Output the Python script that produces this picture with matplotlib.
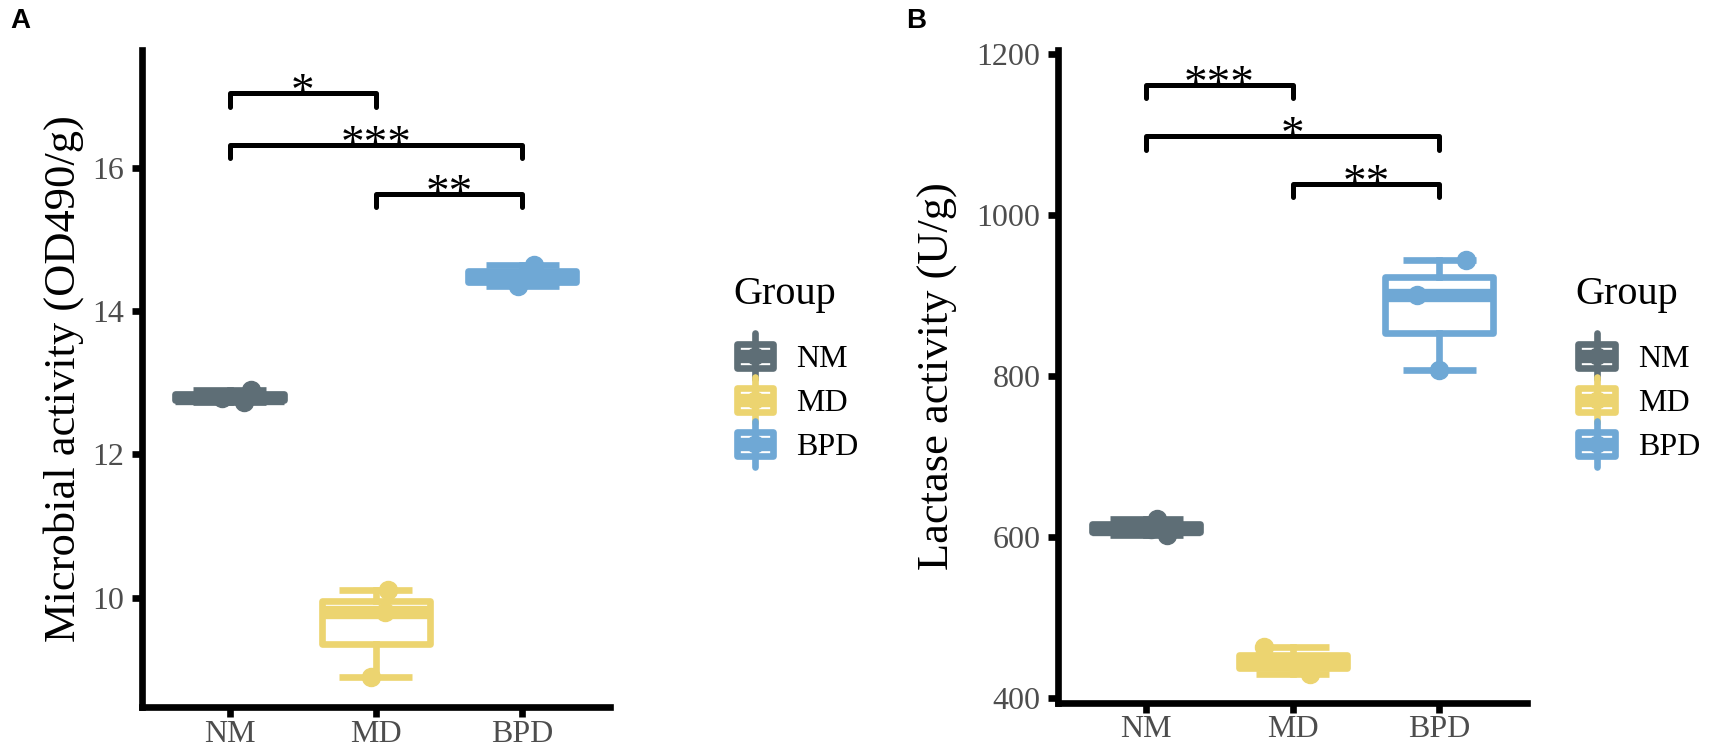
import matplotlib
matplotlib.use("Agg")
import matplotlib.pyplot as plt
from matplotlib.legend_handler import HandlerBase
from matplotlib.patches import Rectangle
from matplotlib.lines import Line2D

plt.rcParams['font.family'] = ['Liberation Serif', 'DejaVu Serif']

# groups and colours
groups = ["NM", "MD", "BPD"]
colors = ["#5E6E76", "#ECD470", "#6FA8D5"]

# panel A: microbial activity (OD490/g), three samples per group
nm_a = [12.73, 12.79, 12.90]
md_a = [8.89, 9.80, 10.10]
bpd_a = [14.35, 14.47, 14.65]
jit_a = [[0.10, -0.05, 0.145], [-0.034, 0.063, 0.086], [-0.03, 0.02, 0.08]]

# panel B: lactase activity (U/g)
nm_b = [603, 610, 622]
md_b = [430, 444, 463]
bpd_b = [807, 901, 944]
jit_b = [[0.144, 0.032, 0.075], [0.12, 0.05, -0.197], [0.0, -0.15, 0.18]]

# significance brackets: (group i, group j, bar level, tip level, label)
sig_a = [(1, 2, 17.05, 16.85, "*"), (1, 3, 16.32, 16.14, "***"), (2, 3, 15.64, 15.46, "**")]
sig_b = [(1, 2, 1162, 1145, "***"), (1, 3, 1098, 1081, "*"), (2, 3, 1038, 1022, "**")]

yticks_a = [10, 12, 14, 16]
yticks_b = [400, 600, 800, 1000, 1200]

LW = 4.8
GREY = "#4D4D4D"


class BoxKey(HandlerBase):
    # small boxplot glyph like the ggplot legend key
    def create_artists(self, legend, orig_handle, xdescent, ydescent,
                       width, height, fontsize, trans):
        c = orig_handle.get_color()
        x0, y0 = -xdescent, -ydescent
        cx, cy = x0 + width / 2, y0 + height / 2
        box = Rectangle((x0, y0), width, height, facecolor="white",
                        edgecolor=c, lw=LW, joinstyle="round", transform=trans)
        med = Line2D([x0, x0 + width], [cy, cy], color=c, lw=LW * 2,
                     solid_capstyle="butt", transform=trans)
        wh = Line2D([cx, cx], [y0 - 0.45 * height, y0 + 1.45 * height], color=c,
                    lw=LW, solid_capstyle="round", transform=trans)
        dot = Line2D([cx], [cy], marker="o", ms=12, color=c, lw=0, transform=trans)
        return [box, med, wh, dot]


def draw_panel(ax, data, jit, sig, ylim, yticks, ylabel, label_x):
    for i, (vals, c) in enumerate(zip(data, colors)):
        pos = i + 1
        ax.boxplot([vals], positions=[pos], widths=0.74, whis=(0, 100),
                   showfliers=False, patch_artist=True, capwidths=[0.5],
                   boxprops=dict(facecolor="white", edgecolor=c, lw=LW, joinstyle="round"),
                   whiskerprops=dict(color=c, lw=LW),
                   capprops=dict(color=c, lw=LW, solid_capstyle="butt"),
                   medianprops=dict(color=c, lw=LW * 2, solid_capstyle="butt"))
        ax.plot([pos + j for j in jit[i]], vals, "o", color=c, ms=13, zorder=5)
    for g1, g2, y, tip, txt in sig:
        ax.plot([g1, g1, g2, g2], [tip, y, y, tip], color="black", lw=3.6,
                solid_capstyle="round", solid_joinstyle="round", clip_on=False)
        ax.annotate(txt, ((g1 + g2) / 2, y), xytext=(0, -8.6), textcoords="offset points",
                    ha="center", va="baseline", fontsize=34, color="black",
                    annotation_clip=False)
    ax.set_xlim(0.4, 3.6)
    ax.set_ylim(*ylim)
    ax.set_xticks([1, 2, 3])
    ax.set_xticklabels(groups)
    ax.set_yticks(yticks)
    for s in ["top", "right"]:
        ax.spines[s].set_visible(False)
    for s in ["left", "bottom"]:
        ax.spines[s].set_linewidth(LW)
        ax.spines[s].set_capstyle("projecting")
    ax.tick_params(axis="both", width=LW, length=7, color="black",
                   labelsize=23, labelcolor=GREY)
    ax.tick_params(axis="y", pad=6)
    ax.tick_params(axis="x", pad=2)
    ax.set_ylabel(ylabel, fontsize=32, va="center")
    ax.yaxis.set_label_coords(label_x, 0.5)


fig = plt.figure(figsize=(17.12, 7.52), dpi=100)
ax_a = fig.add_axes([0.0828, 0.0598, 0.2735, 0.8737])
ax_b = fig.add_axes([0.6182, 0.0652, 0.2738, 0.8684])

draw_panel(ax_a, [nm_a, md_a, bpd_a], jit_a, sig_a, (8.47, 17.65), yticks_a,
           "Microbial activity (OD490/g)", -0.168)
draw_panel(ax_b, [nm_b, md_b, bpd_b], jit_b, sig_b, (394, 1205), yticks_b,
           "Lactase activity (U/g)", -0.257)

handles = [Line2D([], [], color=c) for c in colors]
for lx in [0.4282, 0.92]:
    fig.text(lx, 0.5957, "Group", fontsize=29, ha="left", va="baseline")
    fig.legend(handles, groups, loc="center left", bbox_to_anchor=(lx + 0.002, 0.4641),
               bbox_transform=fig.transFigure, frameon=False,
               fontsize=23, borderpad=0, borderaxespad=0,
               handlelength=1.13, handleheight=0.78,
               handletextpad=0.75, labelspacing=0.44,
               handler_map={Line2D: BoxKey()})

fig.text(0.006, 0.99, "A", fontsize=20, fontweight="bold", family="Liberation Sans",
         ha="left", va="top")
fig.text(0.529, 0.99, "B", fontsize=20, fontweight="bold", family="Liberation Sans",
         ha="left", va="top")

fig.savefig("out.png", dpi=100)
